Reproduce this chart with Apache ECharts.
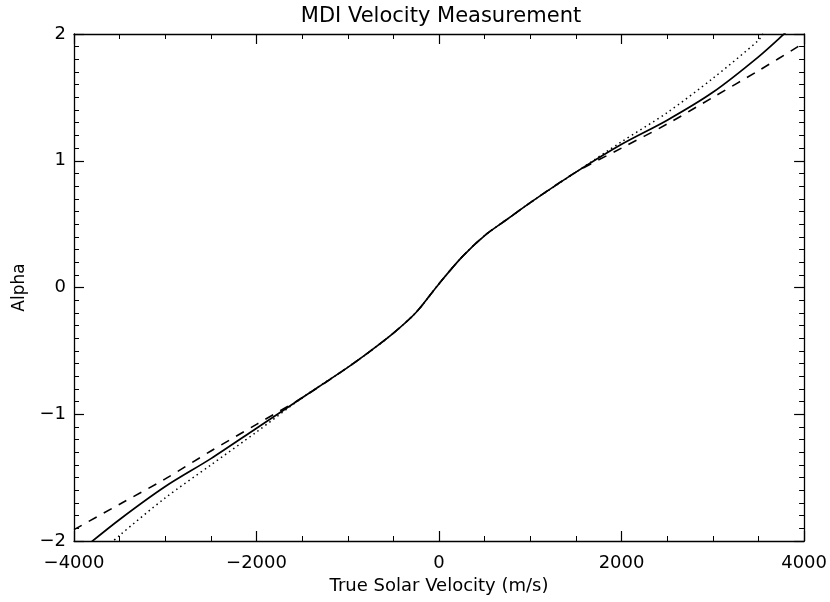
<!DOCTYPE html>
<html>
<head>
<meta charset="utf-8">
<script src="https://cdn.jsdelivr.net/npm/echarts@6/dist/echarts.min.js"></script>
<style>html,body{margin:0;padding:0;background:#fff}#c{width:830px;height:602px}</style>
</head>
<body>
<div id="c"></div>
<script>
// Shared middle part of the curves (velocity m/s, alpha)
const midVel   = [-1500, -1000, -750, -500, -250, 0, 250, 500, 750, 1000, 1500];
const midAlpha = [-0.87, -0.63, -0.50, -0.36, -0.195, 0.03, 0.24, 0.41, 0.54, 0.67, 0.91];

// Solid curve ends
const solidLowVel    = [-3900, -3500, -3000, -2500, -2000];
const solidLowAlpha  = [-2.06, -1.83, -1.57, -1.35, -1.11];
const solidHighVel   = [2000, 2500, 3000, 3500, 3810, 3900];
const solidHighAlpha = [1.13, 1.32, 1.54, 1.82, 2.02, 2.08];

// Dashed curve ends
const dashLowVel    = [-4000, -3500, -3000, -2500, -2000];
const dashLowAlpha  = [-1.91, -1.71, -1.51, -1.29, -1.08];
const dashHighVel   = [2000, 2500, 3000, 3500, 4000];
const dashHighAlpha = [1.10, 1.29, 1.50, 1.71, 1.93];

// Dotted curve ends
const dotLowVel    = [-3600, -3500, -3000, -2500, -2000];
const dotLowAlpha  = [-2.02, -1.955, -1.66, -1.40, -1.14];
const dotHighVel   = [2000, 2500, 3000, 3500, 3548, 3650];
const dotHighAlpha = [1.15, 1.38, 1.65, 1.95, 2.0, 2.07];

const xTicks = [-4000, -2000, 0, 2000, 4000];
const yTicks = [-2, -1, 0, 1, 2];

function build(lv, la, hv, ha) {
  const pts = [];
  lv.forEach((v, i) => pts.push([v, la[i]]));
  midVel.forEach((v, i) => pts.push([v, midAlpha[i]]));
  hv.forEach((v, i) => pts.push([v, ha[i]]));
  return pts;
}

const fontFam = '"DejaVu Sans", sans-serif';
const minus = v => String(v).replace('-', '\u2212');

const chart = echarts.init(document.getElementById('c'));
const common = {
  axisLine: {show: true, onZero: false, lineStyle: {color: '#000', width: 1.3}},
  splitLine: {show: false},
};
const majT = {show: true, inside: true, length: 10, lineStyle: {color: '#000', width: 1.2}};
chart.setOption({
  animation: false,
  backgroundColor: '#fff',
  title: {
    text: 'MDI Velocity Measurement', left: 436, top: 1, textAlign: 'center',
    textStyle: {fontFamily: fontFam, fontSize: 21, fontWeight: 'normal', color: '#000'}
  },
  grid: {left: 74, right: 23, top: 34, bottom: 61},
  xAxis: [{
    type: 'value', min: -4000, max: 4000, interval: 2000, position: 'bottom',
    name: 'True Solar Velocity (m/s)', nameLocation: 'middle', nameGap: 32,
    nameTextStyle: {fontFamily: fontFam, fontSize: 18, color: '#000'},
    axisLabel: {fontFamily: fontFam, fontSize: 18, color: '#000', margin: 13, formatter: v => xTicks.includes(v) ? minus(v) : ''},
    axisTick: majT,
    minorTick: {show: true, splitNumber: 4, length: 5, lineStyle: {color: '#000'}},
    ...common
  }, {
    type: 'value', min: -4000, max: 4000, interval: 2000, position: 'top',
    axisLabel: {show: false},
    axisTick: majT,
    minorTick: {show: true, splitNumber: 4, length: 5, lineStyle: {color: '#000'}},
    ...common
  }],
  yAxis: [{
    type: 'value', min: -2, max: 2, interval: 1, position: 'left',
    name: 'Alpha', nameLocation: 'middle', nameGap: 38, nameRotate: 90,
    nameTextStyle: {fontFamily: fontFam, fontSize: 17, color: '#000'},
    axisLabel: {fontFamily: fontFam, fontSize: 18, color: '#000', margin: 8, formatter: v => yTicks.includes(v) ? minus(v) : ''},
    axisTick: majT,
    minorTick: {show: true, splitNumber: 10, length: 5, lineStyle: {color: '#000'}},
    ...common
  }, {
    type: 'value', min: -2, max: 2, interval: 1, position: 'right',
    axisLabel: {show: false},
    axisTick: majT,
    minorTick: {show: true, splitNumber: 10, length: 5, lineStyle: {color: '#000'}},
    ...common
  }],
  series: [{
    type: 'line', name: 'solid', showSymbol: false, smooth: 0.3, clip: true,
    lineStyle: {color: '#000', width: 1.7, type: 'solid'},
    data: build(solidLowVel, solidLowAlpha, solidHighVel, solidHighAlpha)
  }, {
    type: 'line', name: 'dashed', showSymbol: false, smooth: 0.3, clip: true,
    lineStyle: {color: '#000', width: 1.6, type: [9, 8]},
    data: build(dashLowVel, dashLowAlpha, dashHighVel, dashHighAlpha)
  }, {
    type: 'line', name: 'dotted', showSymbol: false, smooth: 0.3, clip: true,
    lineStyle: {color: '#000', width: 1.5, type: [1.5, 3.5]},
    data: build(dotLowVel, dotLowAlpha, dotHighVel, dotHighAlpha)
  }]
});
</script>
</body>
</html>
